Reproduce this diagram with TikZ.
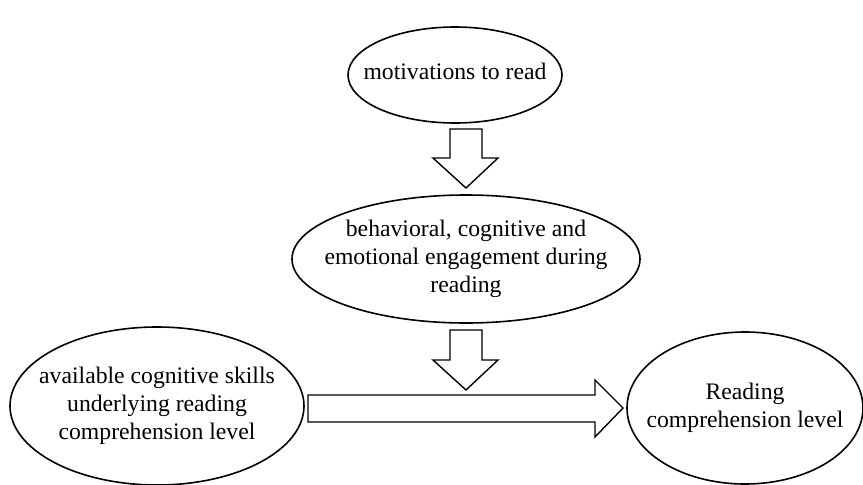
\documentclass[tikz,border=0pt]{standalone}
\usepackage{fontspec}
\setmainfont{Liberation Serif}
\usetikzlibrary{shapes.geometric}
\begin{document}
\begin{tikzpicture}[x=1pt,y=-1pt,
  oval/.style={draw,line width=1.6pt,ellipse,inner sep=-200pt,align=center,
    font=\fontsize{23.7}{28.2}\selectfont},
  blockarrow/.style={draw,line width=1.4pt,fill=white,line join=miter}]
\useasboundingbox (0,0) rectangle (863,485);
\node[oval,minimum width=214pt,minimum height=96pt] (mot) at (455,75) {\raisebox{7pt}{motivations to read}};
\node[oval,minimum width=348pt,minimum height=128pt] (eng) at (466,259) {behavioral, cognitive and\\emotional engagement during\\reading};
\node[oval,minimum width=294pt,minimum height=158pt] (cog) at (157,406) {available cognitive skills\\underlying reading\\comprehension level};
\node[oval,minimum width=236pt,minimum height=152pt] (rc) at (745,408) {Reading\\comprehension level};
% arrow motivations -> engagement
\draw[blockarrow] (450,129) -- (482,129) -- (482,158) -- (498,158) -- (466,188)
  -- (433,158) -- (450,158) -- cycle;
% arrow engagement -> horizontal arrow
\draw[blockarrow] (450,330) -- (482,330) -- (482,360) -- (498,360) -- (466,390)
  -- (433,360) -- (450,360) -- cycle;
% horizontal arrow cognitive -> comprehension
\draw[blockarrow] (308,395) -- (595,395) -- (595,380) -- (623,408) -- (595,437)
  -- (595,422) -- (308,422) -- cycle;
\end{tikzpicture}
\end{document}
